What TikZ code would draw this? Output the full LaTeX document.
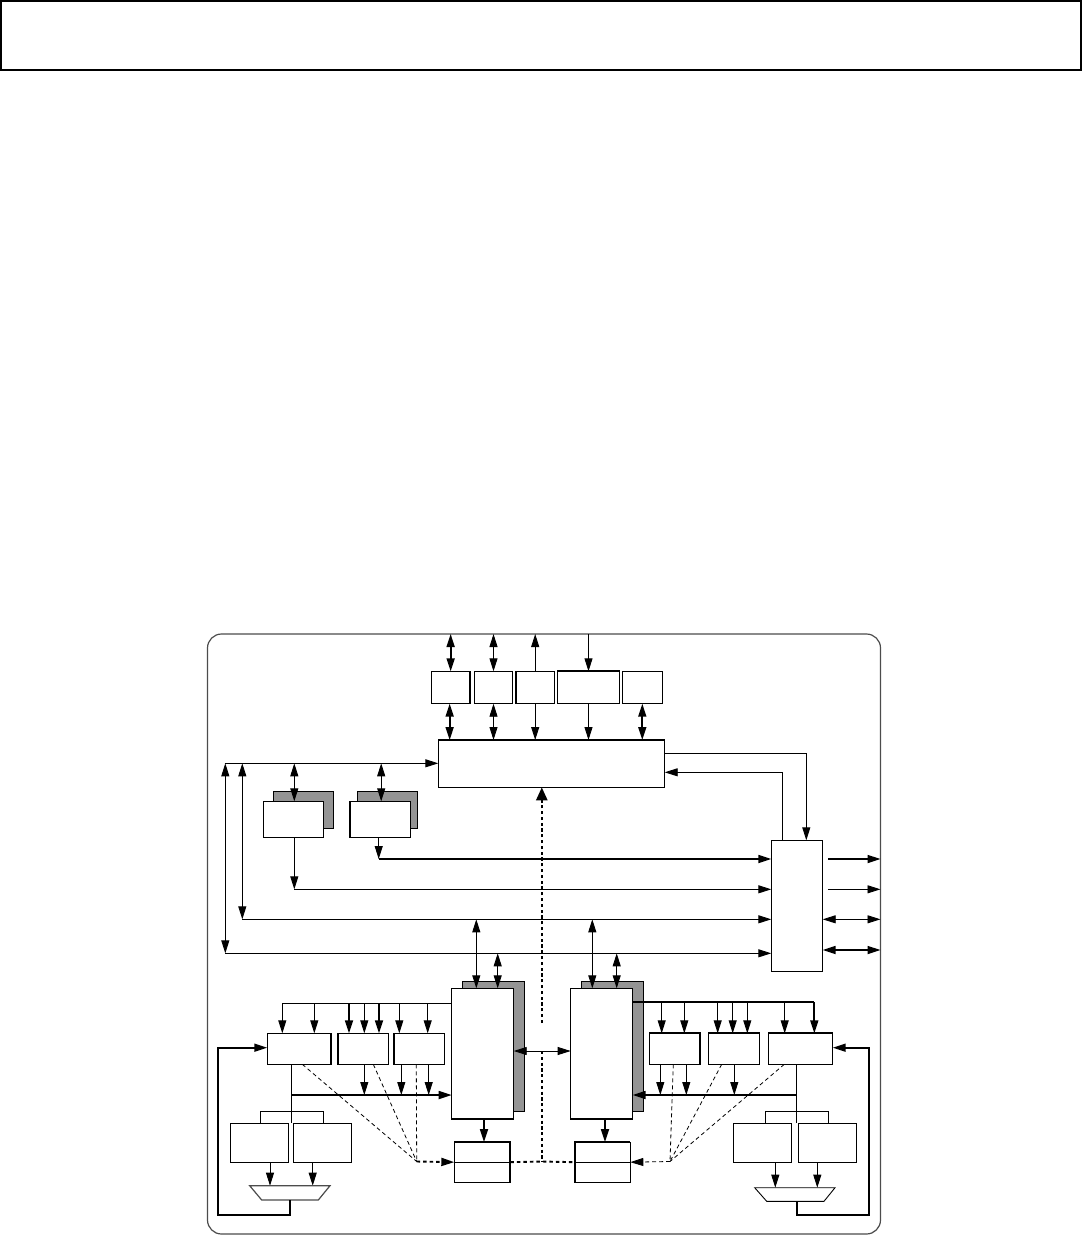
\documentclass[tikz,border=0pt]{standalone}
\usetikzlibrary{calc,arrows.meta,positioning}

\begin{document}
\begin{tikzpicture}[x=1pt,y=-1pt,>={Triangle[length=13pt,width=8pt]}]
\tikzset{
    block/.style={draw,anchor=north west,inner sep=0pt,outer sep=0pt,line width=.9pt,fill=white},
    toprow/.style={block,minimum height=32.4pt},
    shadowcard/.style={block,fill=black!42,minimum width=60.4pt,minimum height=37pt},
    cardbox/.style={block,minimum width=60.6pt,minimum height=36pt},
    shadowcore/.style={block,fill=black!42,minimum width=62.2pt,minimum height=130pt},
    corebox/.style={block,line width=1.5pt,minimum width=62pt,minimum height=130.7pt},
    unitbox/.style={block,minimum height=31pt},
    membox/.style={block,minimum width=58.4pt,minimum height=39pt},
    latchbox/.style={block,minimum width=56pt,minimum height=40.3pt},
    muxshape/.style={draw=black!70,line width=1.2pt,fill=white},
    link/.style={line width=.9pt},
    bus/.style={line width=1.7pt},
    snoop/.style={line width=.8pt,dash pattern=on 4pt off 3pt},
    sync/.style={line width=1.9pt,dash pattern=on 3.5pt off 3pt},
    syncup/.style={line width=2.5pt,dash pattern=on 3.2pt off 2.6pt}
}
    \useasboundingbox (0,0) rectangle (1082,1243);

    \node[block,line width=1.4pt,minimum width=1080pt,minimum height=69pt] (Header) at (1,1) {};
    \node[block,draw=black!70,line width=1.2pt,rounded corners=14pt,minimum width=673pt,minimum height=600pt] (Chip) at (207.5,634) {};

    % top row of pads
    \node[toprow,minimum width=38.7pt] (PadA) at (431.3,671.3) {};
    \node[toprow,minimum width=38.4pt,right=4.3pt of PadA] (PadB) {};
    \node[toprow,minimum width=39pt,right=3pt of PadB] (PadC) {};
    \node[toprow,minimum width=62.4pt,right=2.6pt of PadC] (PadD) {};
    \node[toprow,minimum width=40pt,right=2.6pt of PadD] (PadE) {};
    \node[block,minimum width=226.4pt,minimum height=47.3pt] (Ctrl) at (438.3,740) {};

    % cards on the left
    \node[shadowcard] (CardBackA) at (273.3,791.3) {};
    \node[cardbox] (CardA) at (263.3,801.3) {};
    \node[shadowcard] (CardBackB) at (357.3,791.3) {};
    \node[cardbox,minimum width=61pt] (CardB) at (349.7,801.3) {};

    \node[block,minimum width=51.4pt,minimum height=130.7pt] (Bridge) at (771.3,840.3) {};

    % the two cores
    \node[shadowcore] (CoreBackL) at (462.3,981.7) {};
    \node[corebox] (CoreL) at (451.7,988.3) {};
    \node[shadowcore] (CoreBackR) at (581.3,981.7) {};
    \node[corebox] (CoreR) at (570.7,988.3) {};

    \node[unitbox,minimum width=64pt] (UnitLA) at (267.3,1033.3) {};
    \node[unitbox,minimum width=50.6pt] (UnitLB) at (337.7,1033.3) {};
    \node[unitbox,minimum width=50.6pt] (UnitLC) at (393.7,1033.3) {};
    \node[unitbox,minimum width=51pt] (UnitRA) at (649.3,1033.3) {};
    \node[unitbox,minimum width=51.4pt] (UnitRB) at (708.3,1033.3) {};
    \node[unitbox,minimum width=64.4pt] (UnitRC) at (768.3,1033.3) {};

    \node[membox] (MemLA) at (230.3,1123.3) {};
    \node[membox] (MemLB) at (293.3,1123.3) {};
    \node[membox] (MemRA) at (733.3,1123.3) {};
    \node[membox] (MemRB) at (798.3,1123.3) {};

    \node[latchbox] (LatchL) at (454.3,1142) {};
    \node[latchbox,minimum width=55.6pt] (LatchR) at (574.7,1142) {};

    \coordinate (BusTop) at (224.7,763.3);
    \coordinate (BusLow) at (225.3,953.3);
    \coordinate (BusMid) at (242.3,919.3);
    \coordinate (CardOutA) at (294.3,889.3);
    \coordinate (CardOutB) at (378.7,859);
    \coordinate (CtrlOut) at (806.3,753.3);
    \coordinate (CtrlIn) at (782.3,772.3);
    \coordinate (TapRingL) at (291.3,1095);
    \coordinate (TapRingR) at (796.3,1095);
    \coordinate (BusCoreL) at (282.3,1003.3);
    \coordinate (BusCoreR) at (814.3,1002);
    \coordinate (HubL) at (416.7,1161.5);
    \coordinate (HubR) at (670,1161.5);
    \coordinate (SyncTop) at (541.8,1023);
    \coordinate (SyncGap) at (541.8,1051);
    \coordinate (SyncEnd) at (541.8,1161.5);
    \coordinate (PortA) at (828,859);
    \coordinate (PortB) at (828,889.3);
    \coordinate (PortC) at (822.7,919.3);
    \coordinate (PortD) at (822.7,950);

    % heavier edges
    \draw[bus] (Ctrl.north west) -- (Ctrl.north east);
    \draw[bus] (PadD.north west) -- (PadD.north east);
    \draw[bus] (PadA.north east) -- (PadA.south east);
    \draw[bus] (PadC.north west) -- (PadC.south west);
    \draw[bus] (CardB.north west) -- (CardB.south west);
    \draw[bus] (UnitLA.north east) -- (UnitLA.south east);
    \draw[bus] (UnitLB.north west) -- (UnitLB.south west);
    \draw[bus] (UnitLC.north west) -- (UnitLC.south west);
    \draw[bus] (UnitRA.north west) -- (UnitRA.north east) -- (UnitRA.south east);
    \draw[bus] (UnitRB.north west) -- (UnitRB.north east);
    \draw[bus] (UnitRC.north west) -- (UnitRC.north east);
    \draw[bus] (LatchL.south east) -- (LatchL.north east) -- (LatchL.north west);
    \draw[bus] (LatchR.south west) -- (LatchR.north west) -- (LatchR.north east);

    % pads to the frame and to the controller
    \draw[bus,<->] (PadA.north) -- (PadA.north |- Chip.north);
    \draw[link,<->] (PadB.north) -- (PadB.north |- Chip.north);
    \draw[link,->] (PadC.north) -- (PadC.north |- Chip.north);
    \draw[link,->] (PadD.north |- Chip.north) -- (PadD.north);
    \draw[bus,<->] ([xshift=-1pt]PadA.south) -- ([xshift=-1pt]PadA.south |- Ctrl.north);
    \draw[link,<->] (PadB.south) -- (PadB.south |- Ctrl.north);
    \draw[link,->] (PadC.south) -- (PadC.south |- Ctrl.north);
    \draw[link,->] (PadD.south) -- (PadD.south |- Ctrl.north);
    \draw[bus,<->] (PadE.south) -- (PadE.south |- Ctrl.north);

    % left buses
    \draw[link,->] (BusTop) -- (BusTop -| Ctrl.west);
    \draw[link,<->] (BusLow |- BusTop) -- (BusLow);
    \draw[link,<->] (BusMid |- BusTop) -- (BusMid);
    \draw[link,->] (BusLow) -- (BusLow -| Bridge.west);
    \draw[link,->] (BusMid) -- (BusMid -| Bridge.west);
    \draw[link,<->] (CardA.north -| CardOutA) -- (BusTop -| CardOutA);
    \draw[link,<->] ([xshift=1pt]CardB.north) -- ([xshift=1pt]CardB.north |- BusTop);
    \draw[link,->] (CardA.south -| CardOutA) -- (CardOutA);
    \draw[link,->] (CardOutA) -- (CardOutA -| Bridge.west);
    \draw[link,->] (CardB.south -| CardOutB) -- (CardOutB);
    \draw[bus,->] (CardOutB) -- (CardOutB -| Bridge.west);

    % controller and bridge
    \draw[link,->] (CtrlOut -| Ctrl.east) -- (CtrlOut) -- (CtrlOut |- Bridge.north);
    \draw[link,->] (CtrlIn |- Bridge.north) -- (CtrlIn) -- (CtrlIn -| Ctrl.east);
    \draw[bus,->] (PortA) -- (PortA -| Chip.east);
    \draw[link,->] (PortB) -- (PortB -| Chip.east);
    \draw[link,<->] (PortC) -- (PortC -| Chip.east);
    \draw[bus,<->] (PortD) -- (PortD -| Chip.east);

    % sync line
    \draw[syncup,-{Triangle[length=13pt,width=11pt]}] (SyncTop) -- (SyncTop |- Ctrl.south);
    \draw[syncup] (SyncGap) -- (SyncEnd);
    \draw[sync] (LatchL.east) -- (SyncEnd) -- (LatchR.west);
    \draw[link,<->] (CoreL.east |- SyncGap) -- (CoreR.west |- SyncGap);

    % core to bus links
    \draw[link,<->] (476.3,988.3) -- (476.3,919.3);
    \draw[link,<->] (497.7,988.3) -- (497.7,953.3);
    \draw[link,<->] (592.3,988.3) -- (592.3,919.3);
    \draw[link,<->] (616.7,988.3) -- (616.7,953.3);
    \draw[bus,->] (CoreL.south -| 484,0) -- (LatchL.north -| 484,0);
    \draw[bus,->] (CoreR.south -| 605,0) -- (LatchR.north -| 605,0);
    \draw[link] (LatchL.west) -- (LatchL.east);
    \draw[link] (LatchR.west) -- (LatchR.east);

    % left core units
    \draw[link] (BusCoreL) -- (BusCoreL -| CoreL.west);
    \draw[link,->] (BusCoreL) -- (BusCoreL |- UnitLA.north);
    \draw[link,->] (314.3,1003.3) -- (314.3,1033.3);
    \draw[bus,->] (349,1003.3) -- (349,1033.3);
    \draw[link,->] (364.3,1003.3) -- (364.3,1033.3);
    \draw[bus,->] (379,1003.3) -- (379,1033.3);
    \draw[link,->] (399.3,1003.3) -- (399.3,1033.3);
    \draw[link,->] (427.7,1003.3) -- (427.7,1033.3);
    \draw[link] (TapRingL |- UnitLA.south) -- (TapRingL |- MemLA.north);
    \draw[bus,->] (TapRingL) -- (TapRingL -| CoreL.west);
    \draw[link,->] (364.3,1064.3) -- (364.3,1095);
    \draw[link,->] (401.3,1064.3) -- (401.3,1095);
    \draw[link,->] (428.7,1064.3) -- (428.7,1095);
    \draw[link] (260.7,1123.3) -- (260.7,1111.7) -- (323.7,1111.7) -- (323.7,1123.3);
    \draw[snoop] (302.3,1064.3) -- (HubL);
    \draw[snoop] (373.3,1064.3) -- (HubL);
    \draw[snoop] (416.3,1064.3) -- (HubL);
    \draw[sync,->] (HubL) -- (LatchL.west);
    \draw[link,->] (270,1162.3) -- (270,1185.7);
    \draw[link,->] (312.7,1162.3) -- (312.7,1185.7);
    \draw[muxshape] (249.7,1185.7) -- (330,1185.7) -- (318.3,1200) -- (261.7,1200) -- cycle;
    \draw[bus,->] (290,1200) -- (290,1215) -- (217.7,1215) -- (217.7,1047.7) -- (UnitLA.west |- 0,1047.7);

    % right core units
    \draw[bus] (BusCoreR -| CoreR.east) -- (BusCoreR);
    \draw[bus,->] (BusCoreR) -- (BusCoreR |- UnitRC.north);
    \draw[link,->] (661.7,1002) -- (661.7,1033.3);
    \draw[link,->] (684.3,1002) -- (684.3,1033.3);
    \draw[link,->] (717.7,1002) -- (717.7,1033.3);
    \draw[link,->] (732.7,1002) -- (732.7,1033.3);
    \draw[link,->] (747.3,1002) -- (747.3,1033.3);
    \draw[link,->] (784.7,1002) -- (784.7,1033.3);
    \draw[link] (TapRingR |- UnitRC.south) -- (TapRingR |- MemRA.north);
    \draw[bus,->] (TapRingR) -- (TapRingR -| CoreR.east);
    \draw[link,->] (660.3,1064.3) -- (660.3,1095);
    \draw[link,->] (686.3,1064.3) -- (686.3,1095);
    \draw[link,->] (734.3,1064.3) -- (734.3,1095);
    \draw[link] (765.3,1123.3) -- (765.3,1111.7) -- (828.7,1111.7) -- (828.7,1123.3);
    \draw[snoop] (673.3,1064.3) -- (HubR);
    \draw[snoop] (721.7,1064.3) -- (HubR);
    \draw[snoop] (784.3,1064.3) -- (HubR);
    \draw[snoop,->] (HubR) -- (LatchR.east);
    \draw[link,->] (775.3,1162.3) -- (775.3,1187.7);
    \draw[link,->] (817.3,1162.3) -- (817.3,1187.7);
    \draw[muxshape,draw=black,line width=.9pt] (754.7,1187.7) -- (835,1187.7) -- (824,1201.3) -- (766.7,1201.3) -- cycle;
    \draw[bus,->] (796.7,1201.3) -- (796.7,1215) -- (869.3,1215) -- (869.3,1047.7) -- (UnitRC.east |- 0,1047.7);
\end{tikzpicture}
\end{document}
